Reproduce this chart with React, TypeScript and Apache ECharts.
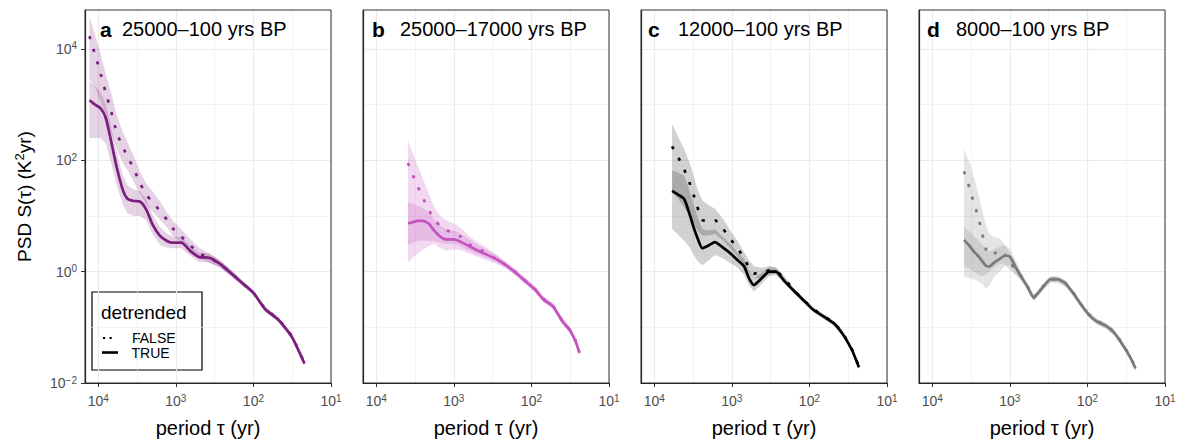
import React, { useEffect, useRef } from 'react';
import * as echarts from 'echarts';

// ---------- data (period in yr, PSD in K^2 yr) ----------
const periodA = [13000, 11000, 9300, 8000, 6800, 5800, 4800, 4200, 3500, 2900, 2400, 2000, 1600, 1300, 1100, 850, 650, 500, 370, 270, 190, 130, 100, 70, 48, 32, 22];
const aFalse = [17000, 7940, 3550, 1620, 741, 316, 170, 117, 70.8, 38.9, 24.0, 17.8, 12.3, 8.51, 6.03, 4.27, 2.95, 2.14, 1.74, 1.38, 0.912, 0.575, 0.417, 0.214, 0.141, 0.0692, 0.0229];
const aFalseLo = [2820, 2000, 1120, 631, 316, 158, 89.1, 66.1, 41.7, 25.1, 15.8, 12.0, 8.51, 6.31, 4.47, 3.31, 2.34, 1.74, 1.45, 1.17, 0.813, 0.513, 0.38, 0.191, 0.126, 0.0617, 0.0204];
const aFalseHi = [38000, 17800, 7940, 3550, 1580, 661, 316, 209, 120, 63.1, 38.0, 28.2, 18.2, 11.7, 8.32, 5.75, 3.8, 2.69, 2.09, 1.62, 1.05, 0.631, 0.457, 0.234, 0.155, 0.0759, 0.0251];
const aTrue = [1200, 1000, 851, 575, 214, 75.9, 28.8, 20.4, 18.6, 18.2, 12.9, 7.08, 4.37, 3.55, 3.31, 3.31, 2.34, 1.82, 1.78, 1.38, 0.912, 0.575, 0.417, 0.209, 0.138, 0.0676, 0.0224];
const aTrueLo = [251, 251, 251, 200, 89.1, 35.5, 15.8, 11.2, 10.0, 10.0, 8.32, 4.79, 3.02, 2.69, 2.63, 2.63, 1.91, 1.48, 1.48, 1.2, 0.813, 0.513, 0.38, 0.191, 0.126, 0.0617, 0.0204];
const aTrueHi = [2630, 2140, 1660, 1000, 398, 141, 52.5, 35.5, 30.2, 28.2, 20.0, 10.5, 6.31, 4.79, 4.27, 4.17, 2.88, 2.19, 2.14, 1.58, 1.05, 0.631, 0.457, 0.229, 0.151, 0.0741, 0.0245];

const periodB = [3900, 3400, 2900, 2500, 2100, 1800, 1500, 1250, 1000, 800, 620, 480, 370, 280, 210, 160, 120, 90, 70, 53, 40, 32, 27, 24];
const bFalse = [89.1, 55.0, 33.1, 20.9, 12.9, 8.71, 6.61, 5.5, 5.01, 4.17, 3.02, 2.57, 2.09, 1.66, 1.29, 0.977, 0.692, 0.49, 0.324, 0.245, 0.132, 0.0912, 0.0575, 0.0355];
const bFalseLo = [2.95, 3.31, 3.55, 3.63, 3.55, 3.55, 3.31, 3.16, 3.16, 2.82, 2.29, 2.0, 1.74, 1.45, 1.15, 0.851, 0.603, 0.427, 0.282, 0.214, 0.115, 0.0794, 0.0501, 0.0309];
const bFalseHi = [224, 135, 77.6, 46.8, 25.1, 14.5, 10.0, 8.32, 7.41, 6.03, 4.17, 3.31, 2.63, 2.0, 1.48, 1.1, 0.776, 0.55, 0.363, 0.275, 0.148, 0.102, 0.0646, 0.0398];
const bTrue = [7.41, 7.76, 8.13, 8.13, 7.24, 5.5, 4.27, 3.8, 3.8, 3.39, 2.82, 2.34, 2.0, 1.66, 1.29, 0.955, 0.676, 0.479, 0.316, 0.24, 0.129, 0.0891, 0.0562, 0.0347];
const bTrueLo = [1.48, 1.78, 2.14, 2.51, 2.88, 3.16, 2.63, 2.4, 2.51, 2.4, 2.09, 1.82, 1.58, 1.38, 1.12, 0.851, 0.603, 0.427, 0.282, 0.214, 0.115, 0.0794, 0.0501, 0.0309];
const bTrueHi = [17.8, 16.6, 15.1, 13.8, 11.7, 8.91, 6.61, 5.75, 5.5, 4.68, 3.72, 2.95, 2.45, 2.0, 1.48, 1.07, 0.759, 0.537, 0.355, 0.269, 0.145, 0.1, 0.0631, 0.0389];

const periodC = [5900, 4900, 4100, 3500, 3100, 2800, 2400, 2000, 1650, 1300, 1050, 850, 700, 600, 520, 420, 330, 270, 210, 160, 120, 90, 65, 48, 36, 28, 23];
const cFalse = [178, 112, 67.6, 38.9, 23.4, 14.8, 8.51, 7.94, 8.32, 5.89, 3.89, 2.69, 1.74, 1.2, 0.933, 0.933, 1.05, 1.02, 0.759, 0.468, 0.316, 0.214, 0.158, 0.12, 0.0724, 0.0389, 0.0195];
const cFalseLo = [26.9, 20.0, 14.1, 9.55, 7.08, 5.62, 4.47, 4.47, 4.79, 3.63, 2.63, 1.86, 1.26, 0.933, 0.759, 0.776, 0.891, 0.912, 0.661, 0.417, 0.282, 0.191, 0.141, 0.107, 0.0646, 0.0347, 0.0174];
const cFalseHi = [447, 263, 158, 89.1, 52.5, 31.6, 19.1, 15.8, 13.5, 8.91, 5.5, 3.63, 2.29, 1.58, 1.26, 1.17, 1.26, 1.2, 0.832, 0.501, 0.339, 0.229, 0.17, 0.129, 0.0776, 0.0417, 0.0209];
const cTrue = [28.2, 24.0, 20.0, 10.7, 6.17, 4.17, 2.63, 2.95, 3.39, 2.69, 2.14, 1.62, 1.26, 0.759, 0.575, 0.741, 1.0, 1.0, 0.676, 0.457, 0.309, 0.209, 0.155, 0.117, 0.0708, 0.038, 0.0191];
const cTrueLo = [5.89, 4.57, 3.55, 2.75, 2.0, 1.58, 1.29, 1.58, 2.0, 1.74, 1.41, 1.2, 0.891, 0.562, 0.437, 0.589, 0.832, 0.871, 0.603, 0.417, 0.282, 0.191, 0.141, 0.107, 0.0646, 0.0347, 0.0174];
const cTrueHi = [66.1, 60.3, 52.5, 28.2, 15.8, 10.0, 5.75, 5.5, 5.75, 4.17, 3.16, 2.24, 1.74, 1.05, 0.759, 0.933, 1.2, 1.15, 0.759, 0.501, 0.339, 0.229, 0.17, 0.129, 0.0776, 0.0417, 0.0209];

const periodD = [3900, 3300, 2900, 2600, 2300, 2050, 1850, 1600, 1350, 1150, 1000, 850, 700, 600, 490, 430, 370, 300, 240, 190, 150, 120, 95, 75, 58, 45, 36, 28, 24];
const dFalse = [63.1, 31.6, 16.6, 10.5, 5.25, 2.63, 2.0, 2.09, 2.45, 2.0, 1.41, 1.15, 0.794, 0.562, 0.347, 0.427, 0.55, 0.741, 0.741, 0.617, 0.407, 0.257, 0.17, 0.129, 0.11, 0.0813, 0.0525, 0.0295, 0.0186];
const dFalseLo = [1.26, 1.12, 1.0, 0.891, 0.832, 0.891, 1.0, 1.2, 1.38, 1.32, 1.05, 0.891, 0.692, 0.49, 0.302, 0.372, 0.479, 0.646, 0.646, 0.537, 0.355, 0.224, 0.148, 0.112, 0.0955, 0.0708, 0.0457, 0.0257, 0.0162];
const dFalseHi = [158, 89.1, 50.1, 28.2, 14.1, 7.08, 4.79, 4.17, 3.98, 3.02, 2.09, 1.51, 0.871, 0.617, 0.38, 0.468, 0.603, 0.813, 0.813, 0.676, 0.447, 0.282, 0.186, 0.141, 0.12, 0.0891, 0.0575, 0.0324, 0.0204];
const dTrue = [3.72, 2.88, 2.29, 1.95, 1.58, 1.29, 1.23, 1.45, 1.7, 1.95, 1.86, 1.23, 0.776, 0.55, 0.339, 0.417, 0.537, 0.724, 0.724, 0.603, 0.398, 0.251, 0.166, 0.126, 0.107, 0.0794, 0.0513, 0.0288, 0.0182];
const dTrueLo = [0.794, 0.759, 0.724, 0.676, 0.603, 0.501, 0.55, 0.794, 1.0, 1.26, 1.32, 0.891, 0.661, 0.479, 0.295, 0.363, 0.468, 0.631, 0.631, 0.525, 0.355, 0.224, 0.148, 0.112, 0.0955, 0.0708, 0.0457, 0.0257, 0.0162];
const dTrueHi = [6.31, 5.25, 4.37, 3.72, 3.16, 2.63, 2.29, 2.51, 2.82, 2.95, 2.63, 1.66, 0.912, 0.631, 0.389, 0.479, 0.617, 0.832, 0.832, 0.692, 0.447, 0.282, 0.186, 0.141, 0.12, 0.0891, 0.0575, 0.0324, 0.0204];

const panelLetters = ['a', 'b', 'c', 'd'];
const panelTitles = ['25000–100 yrs BP', '25000–17000 yrs BP', '12000–100 yrs BP', '8000–100 yrs BP'];
const lineColors = ['#7B1F7E', '#C453BE', '#000000', '#7A7A7A'];
const bandColors = ['rgba(123,31,126,0.2)', 'rgba(196,83,190,0.22)', 'rgba(0,0,0,0.18)', 'rgba(122,122,122,0.2)'];

const xTickValues = [10, 100, 1000, 10000];
const xMinorValues = [31.62, 316.2, 3162];
const yTickValues = [0.01, 1, 100, 10000];
const yMinorValues = [0.1, 10, 1000];

const legendTitle = 'detrended';
const legendLabels = ['FALSE', 'TRUE'];
const xTitle = 'period τ (yr)';

// ---------- layout ----------
const FONT_NAME = 'Liberation Sans';
const FONT = '"Liberation Sans", Arial, Helvetica, sans-serif';
const GRID_LEFTS = [85, 363, 641, 919];
const GRID_TOP = 10;
const GRID_W = 246;
const GRID_H = 373;
const X_MIN = 10;
const X_MAX = 14830;
const Y_MIN = 0.01;
const Y_MAX = 50000;

const panels = [
  { period: periodA, f: aFalse, fLo: aFalseLo, fHi: aFalseHi, t: aTrue, tLo: aTrueLo, tHi: aTrueHi },
  { period: periodB, f: bFalse, fLo: bFalseLo, fHi: bFalseHi, t: bTrue, tLo: bTrueLo, tHi: bTrueHi },
  { period: periodC, f: cFalse, fLo: cFalseLo, fHi: cFalseHi, t: cTrue, tLo: cTrueLo, tHi: cTrueHi },
  { period: periodD, f: dFalse, fLo: dFalseLo, fHi: dFalseHi, t: dTrue, tLo: dTrueLo, tHi: dTrueHi },
];

const supLabel = (v: number) => {
  const e = Math.round(Math.log10(v));
  return `{b|10}{s|${e < 0 ? '\u2212' + -e : e}}`;
};

const makeTickLabel = (base: number, sup: number, raise: number) => ({
  fontSize: base,
  fontFamily: FONT_NAME,
  color: '#4D4D4D',
  rich: {
    b: { fontSize: base, fontFamily: FONT_NAME, color: '#4D4D4D', lineHeight: 16 },
    s: { fontSize: sup, fontFamily: FONT_NAME, color: '#4D4D4D', lineHeight: raise, verticalAlign: 'top' },
  },
});

function bandSeries(i: number, period: number[], lo: number[], hi: number[]) {
  const data = period.map((p, k) => [p, lo[k], hi[k]]);
  return {
    type: 'custom',
    xAxisIndex: 2 * i,
    yAxisIndex: 2 * i,
    clip: true,
    silent: true,
    z: 2,
    data,
    encode: { x: 0, y: [1, 2] },
    renderItem: (params: any, api: any) => {
      if (params.dataIndex !== 0) return null;
      const upper = data.map((d) => api.coord([d[0], d[2]]));
      const lower = data.map((d) => api.coord([d[0], d[1]])).reverse();
      return {
        type: 'polygon',
        shape: { points: upper.concat(lower) },
        style: { fill: bandColors[i], stroke: 'none' },
      };
    },
  };
}

function lineSeries(i: number, period: number[], vals: number[], dotted: boolean) {
  return {
    type: 'line',
    xAxisIndex: 2 * i,
    yAxisIndex: 2 * i,
    data: period.map((p, k) => [p, vals[k]]),
    showSymbol: false,
    symbol: 'none',
    smooth: 0.2,
    silent: true,
    z: dotted ? 4 : 3,
    lineStyle: {
      color: lineColors[i],
      width: 2.7,
      type: dotted ? [3.2, 10] : 'solid',
      cap: 'butt',
      join: 'round',
    },
  };
}

export default function App() {
  const ref = useRef<HTMLDivElement>(null);

  useEffect(() => {
    if (!ref.current) return;
    const chart = echarts.init(ref.current, null, { renderer: 'svg' });

    const grid: any[] = [];
    const xAxis: any[] = [];
    const yAxis: any[] = [];
    const series: any[] = [];
    const graphic: any[] = [];

    panels.forEach((p, i) => {
      grid.push({ left: GRID_LEFTS[i], top: GRID_TOP, width: GRID_W, height: GRID_H, show: false });
      xAxis.push({
        type: 'log', logBase: 10, gridIndex: i, min: X_MIN, max: X_MAX, inverse: true, position: 'bottom',
        axisLine: { show: true, onZero: false, lineStyle: { color: '#1a1a1a', width: 1.2 } },
        axisTick: { show: true, length: 4, customValues: xTickValues, lineStyle: { color: '#333', width: 1 } },
        axisLabel: { ...makeTickLabel(14, 10, 4), show: true, margin: 10, customValues: xTickValues, formatter: supLabel },
        splitLine: { show: true, lineStyle: { color: '#EBEBEB', width: 1.1 } },
      });
      xAxis.push({
        type: 'log', logBase: 10, gridIndex: i, min: X_MIN, max: X_MAX, inverse: true, position: 'top',
        axisLine: { show: false }, axisTick: { show: false, customValues: xMinorValues },
        axisLabel: { show: false, customValues: xMinorValues },
        splitLine: { show: true, lineStyle: { color: '#EBEBEB', width: 0.6 } },
      });
      yAxis.push({
        type: 'log', logBase: 10, gridIndex: i, min: Y_MIN, max: Y_MAX, position: 'left',
        axisLine: { show: true, onZero: false, lineStyle: { color: '#1a1a1a', width: 1.2 } },
        axisTick: { show: i === 0, length: 4, customValues: yTickValues, lineStyle: { color: '#333', width: 1 } },
        axisLabel: { ...makeTickLabel(14, 10, 3), show: i === 0, margin: 8, customValues: yTickValues, formatter: supLabel },
        splitLine: { show: true, lineStyle: { color: '#EBEBEB', width: 1.1 } },
      });
      yAxis.push({
        type: 'log', logBase: 10, gridIndex: i, min: Y_MIN, max: Y_MAX, position: 'right',
        axisLine: { show: false }, axisTick: { show: false, customValues: yMinorValues },
        axisLabel: { show: false, customValues: yMinorValues },
        splitLine: { show: true, lineStyle: { color: '#EBEBEB', width: 0.6 } },
      });

      series.push(bandSeries(i, p.period, p.fLo, p.fHi));
      series.push(bandSeries(i, p.period, p.tLo, p.tHi));
      series.push(lineSeries(i, p.period, p.t, false));
      series.push(lineSeries(i, p.period, p.f, true));

      // panel border
      graphic.push({
        type: 'rect', z: 50, silent: true,
        shape: { x: GRID_LEFTS[i], y: GRID_TOP, width: GRID_W, height: GRID_H },
        style: { fill: 'none', stroke: '#333', lineWidth: 1 },
      });
      // panel tag + title
      const letterX = [100, 372, 648, 927][i];
      graphic.push({
        type: 'text', z: 60, silent: true, x: letterX, y: 29,
        style: { text: panelLetters[i], font: `bold 21px ${FONT}`, fill: '#000', textAlign: 'left', textVerticalAlign: 'middle' },
      });
      graphic.push({
        type: 'text', z: 60, silent: true, x: GRID_LEFTS[i] + 37, y: 29,
        style: { text: panelTitles[i], font: `20px ${FONT}`, fill: '#000', textAlign: 'left', textVerticalAlign: 'middle' },
      });
      // x axis title
      graphic.push({
        type: 'text', z: 60, silent: true, x: GRID_LEFTS[i] + GRID_W / 2, y: 428,
        style: { text: xTitle, font: `20px ${FONT}`, fill: '#000', textAlign: 'center', textVerticalAlign: 'middle' },
      });
    });

    // y axis title
    graphic.push({
      type: 'text', z: 60, silent: true, x: 24, y: 196.5, rotation: Math.PI / 2,
      style: {
        text: '{n|PSD S(τ) (K}{s|2}{n|yr)}',
        textAlign: 'center', textVerticalAlign: 'middle',
        rich: {
          n: { fontSize: 19, fontFamily: FONT_NAME, fill: '#000', color: '#000', lineHeight: 22 },
          s: { fontSize: 13, fontFamily: FONT_NAME, fill: '#000', color: '#000', lineHeight: 8, verticalAlign: 'top' },
        },
      },
    });

    // legend
    graphic.push({
      type: 'group', z: 70, silent: true,
      children: [
        { type: 'rect', shape: { x: 92, y: 292, width: 110, height: 78 }, style: { fill: '#fff', stroke: '#000', lineWidth: 1.2 } },
        { type: 'text', x: 101, y: 312, style: { text: legendTitle, font: `19px ${FONT}`, fill: '#000', textAlign: 'left', textVerticalAlign: 'middle' } },
        { type: 'line', shape: { x1: 103, y1: 338, x2: 112.5, y2: 338 }, style: { stroke: '#000', lineWidth: 2.2, lineDash: [2.2, 4.3] } },
        { type: 'line', shape: { x1: 102, y1: 352.5, x2: 118, y2: 352.5 }, style: { stroke: '#000', lineWidth: 2.6 } },
        { type: 'text', x: 132, y: 337.5, style: { text: legendLabels[0], font: `14px ${FONT}`, fill: '#000', textAlign: 'left', textVerticalAlign: 'middle' } },
        { type: 'text', x: 131.5, y: 353, style: { text: legendLabels[1], font: `14px ${FONT}`, fill: '#000', textAlign: 'left', textVerticalAlign: 'middle' } },
      ],
    });

    chart.setOption({
      animation: false,
      backgroundColor: '#ffffff',
      textStyle: { fontFamily: FONT_NAME },
      grid,
      xAxis,
      yAxis,
      series,
      graphic,
    });

    return () => chart.dispose();
  }, []);

  return <div ref={ref} style={{ position: 'absolute', left: 0, top: 0, width: 1183, height: 441 }} />;
}
